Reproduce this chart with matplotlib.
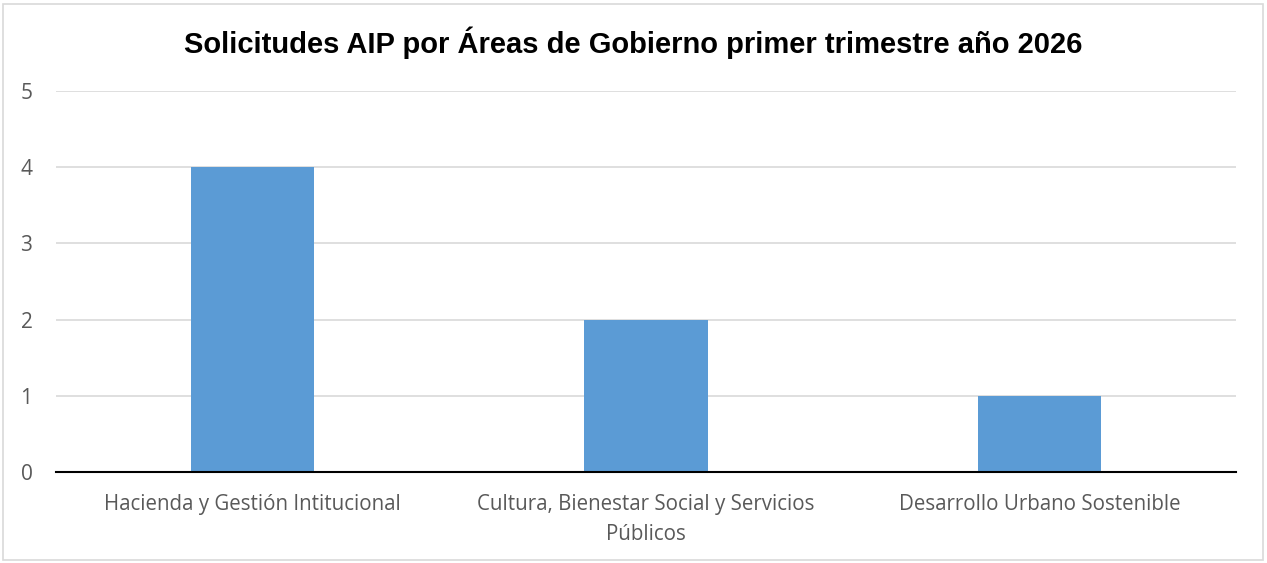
import matplotlib.pyplot as plt
from matplotlib.patches import Rectangle

categorias = ['Hacienda y Gestión Intitucional',
              'Cultura, Bienestar Social y Servicios\nPúblicos',
              'Desarrollo Urbano Sostenible']
solicitudes = [4, 2, 1]
titulo = 'Solicitudes AIP por Áreas de Gobierno primer trimestre año 2026'

fig = plt.figure(figsize=(12.67, 5.63), dpi=100)
ax = fig.add_axes([56/1267, 1 - 472/563, 1180/1267, 381/563])

x = list(range(len(categorias)))
ax.bar(x, solicitudes, width=0.313, color='#5B9BD5', zorder=3)

ax.set_xlim(-0.5, len(categorias) - 0.5)
ax.set_ylim(0, 5)
ax.set_yticks(range(6))
ax.yaxis.grid(True, color='#D9D9D9', linewidth=1.2, zorder=0)
ax.set_xticks(x)
ax.set_xticklabels(categorias, fontfamily='Open Sans', fontsize=14.8,
                   color='#595959', linespacing=1.55)
for lbl in ax.get_yticklabels():
    lbl.set_fontfamily('Open Sans')
    lbl.set_fontsize(15)
    lbl.set_color('#595959')
ax.tick_params(axis='both', length=0)
ax.tick_params(axis='x', pad=16)
ax.tick_params(axis='y', pad=17)
for s in ['top', 'right', 'left']:
    ax.spines[s].set_visible(False)
ax.spines['bottom'].set_color('black')
ax.spines['bottom'].set_linewidth(1.5)
ax.spines['bottom'].set_zorder(4)

fig.text(0.5, 1 - 43/563, titulo, ha='center', va='center',
         fontfamily='Liberation Sans', fontweight='bold', fontsize=21)

fig.patches.append(Rectangle((3/1267, 3/563), 1260/1267, 556/563,
                             transform=fig.transFigure, fill=False,
                             edgecolor='#D9D9D9', linewidth=1.2))

fig.savefig('out.png', dpi=100)
